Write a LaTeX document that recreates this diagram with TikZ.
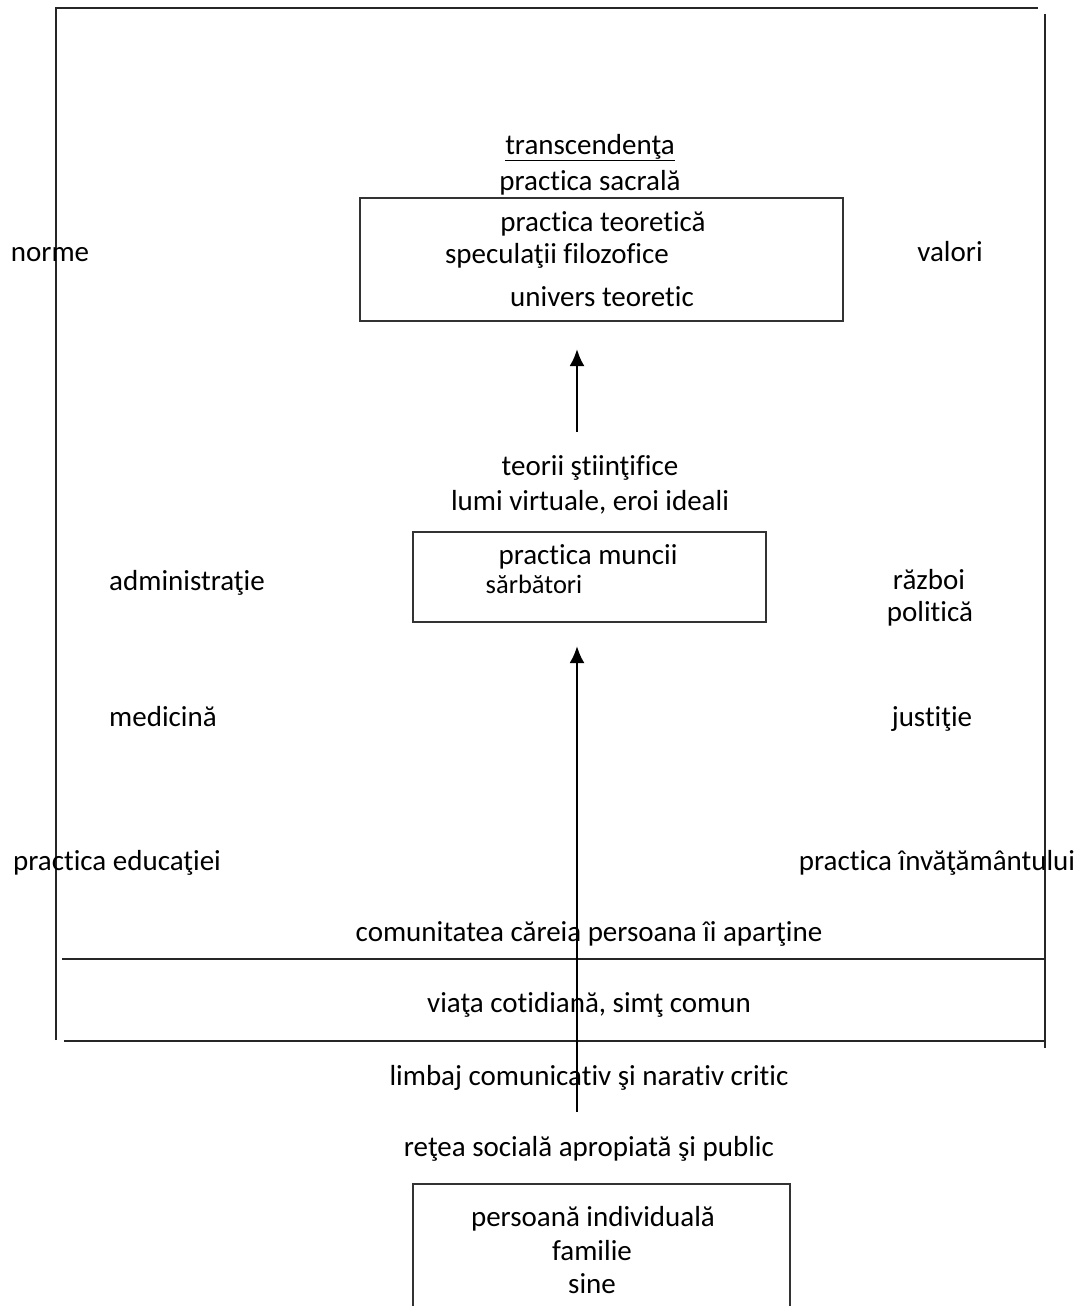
\documentclass[tikz,border=0pt]{standalone}
\usepackage{fontspec}
\setmainfont[Ligatures=NoCommon]{Carlito}
\usetikzlibrary{arrows.meta}
\begin{document}
\begin{tikzpicture}[x=1pt,y=-1pt,
  lbl/.style={inner sep=0pt, font=\fontsize{29}{35}\selectfont, text height=23pt, text depth=3pt, anchor=center},
  smalllbl/.style={lbl, font=\fontsize{26.5}{30}\selectfont},
  frameline/.style={line width=2pt, draw=black!85},
  boxline/.style={line width=1.6pt, draw=black!80},
  emptybox/.style={boxline, rectangle, inner sep=0pt},
  arr/.style={line width=2.6pt, -{Latex[length=17pt,width=15pt]}},
  thinline/.style={line width=1.5pt}
]
\useasboundingbox (0,0) rectangle (1081,1306);
% outer frame
\draw[frameline] (56,1040) -- (56,8) -- (1038,8);
\draw[frameline] (1045,14) -- (1045,1048);
\draw[frameline] (62,959) -- (1045,959);
\draw[frameline] (64,1041) -- (1045,1041);

% boxes
\node[emptybox, minimum width=483pt, minimum height=123pt] (boxT) at (601.5,259.5) {};
\node[emptybox, minimum width=353pt, minimum height=90pt] (boxM) at (589.5,577) {};
\draw[boxline] (413,1310) -- (413,1184) -- (790,1184) -- (790,1310);

% texts top
\node[lbl] (trans) at (590,144) {\underline{transcendenţa}};
\node[lbl] (sacra) at (590,180) {practica sacrală};
\node[lbl] (teor) at (603,221) {practica teoretică};
\node[lbl] (spec) at (557,253) {speculaţii filozofice};
\node[lbl] (univ) at (602,296) {univers teoretic};
\node[lbl] (norme) at (50,251) {norme};
\node[lbl] (valori) at (950,251) {valori};

\node[lbl] (stiint) at (590,465) {teorii ştiinţifice};
\node[lbl] (lumi) at (590,500) {lumi virtuale, eroi ideali};
\node[lbl] (munc) at (588,554) {practica muncii};
\node[smalllbl] (sarb) at (534,583) {sărbători};
\node[lbl] (admin) at (187,580) {administraţie};
\node[lbl] (razb) at (929,579) {război};
\node[lbl] (polit) at (930,611) {politică};
\node[lbl] (medic) at (163,716) {medicină};
\node[lbl] (just) at (932,716) {justiţie};
\node[lbl] (educ) at (117,860) {practica educaţiei};
\node[lbl] (invat) at (937,860) {practica învăţământului};

\node[lbl] (comun) at (589,931) {comunitatea căreia persoana îi aparţine};
\node[lbl] (viata) at (589,1002) {viaţa cotidiană, simţ comun};
\node[lbl] (limbaj) at (589,1075) {limbaj comunicativ şi narativ critic};
\node[lbl] (retea) at (589,1146) {reţea socială apropiată şi public};
\node[lbl] (pers) at (593,1216) {persoană individuală};
\node[lbl] (fam) at (592,1250) {familie};
\node[lbl] (sine) at (592,1283) {sine};

% arrows
\coordinate (a1s) at (577,432);
\coordinate (a1e) at (577,349);
\draw[arr] (a1s) -- (a1e);
\coordinate (a2s) at (577,1112);
\coordinate (a2m) at (577,800);
\coordinate (a2e) at (577,646);
\draw[thinline] (a2s) -- (a2m);
\draw[arr] (a2m) -- (a2e);
\end{tikzpicture}
\end{document}
